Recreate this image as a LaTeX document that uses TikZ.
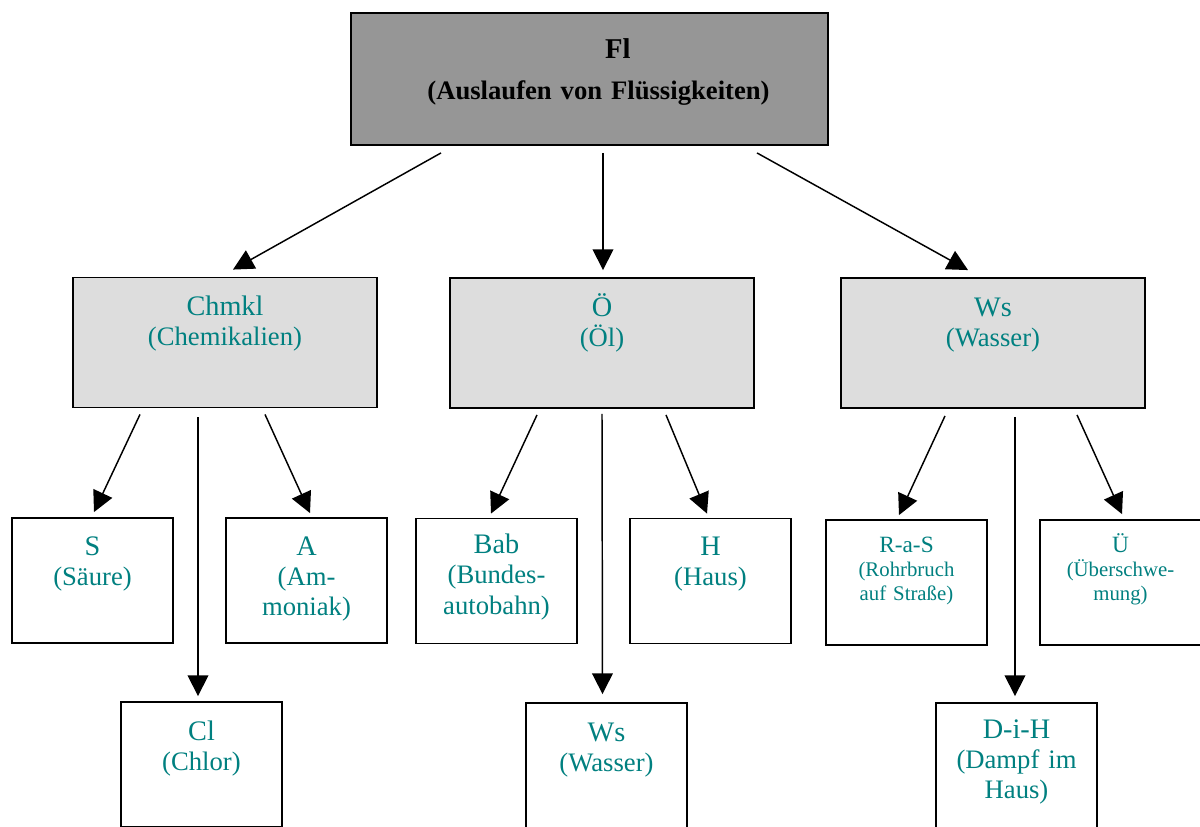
\documentclass[tikz,border=0pt]{standalone}
\usepackage{fontspec}
\setmainfont{Liberation Serif}
\usetikzlibrary{calc,arrows.meta,positioning}
\definecolor{c0}{RGB}{0,128,128}
\definecolor{c1}{RGB}{150,150,150}
\definecolor{c2}{RGB}{221,221,221}
\tikzset{%
  haupt/.style={draw,line width=1.4pt,fill=c1,minimum width=357.75pt,minimum height=99pt},
  gruppe/.style={draw,line width=1.4pt,fill=c2,minimum width=228pt,minimum height=97.5pt},
  blatt/.style={draw,line width=1.4pt,fill=white,minimum width=120.75pt,minimum height=93.75pt},
  txt/.style={text=c0,anchor=base,align=center,text width=#1,inner sep=0pt,
    font={\fontsize{20}{22.8}\selectfont}},
  txt/.default=115pt,
  klein/.style={txt,font={\fontsize{15.6}{18}\selectfont}},
  pfeil/.style={line width=1.1pt,-{Triangle[length=15.5pt,width=15.5pt]}}
}
\NewDocumentCommand\kopf{m}{{\fontsize{21.2}{22.8}\selectfont #1}}
\NewDocumentCommand\kopfklein{m}{{\fontsize{17.5}{18}\selectfont #1}}

\begin{document}
\begin{tikzpicture}[x=0.75pt,y=-0.75pt]
  \useasboundingbox (0,0) rectangle (1200,826);
  %% Top
  \node[haupt] (fl) at (589.5,79) {};
  \node[anchor=base,align=center,text width=330pt,inner sep=0pt,
    font={\bfseries\fontsize{20}{30.75}\selectfont}] (fl-t) at ($(fl.north)+(9,46)$)
    {\hspace*{29pt}{\fontsize{21.5}{30.75}\selectfont Fl}\\(Auslaufen von Flüssigkeiten)};
  %% Groups
  \node[gruppe] (chmkl) at (225,342.5) {};
  \node[txt=220pt] (chmkl-t) at ($(chmkl.north)+(0,39)$) {\kopf{Chmkl}\\(Chemikalien)};
  \node[gruppe] (oel) at (602,343) {};
  \node[txt=220pt] (oel-t) at ($(oel.north)+(0,39)$) {\kopf{Ö}\\(Öl)};
  \node[gruppe] (ws) at (993,343) {};
  \node[txt=220pt] (ws-t) at ($(ws.north)+(0,39)$) {\kopf{Ws}\\(Wasser)};
  %% Leaves
  \node[blatt] (s) at (92.5,580.5) {};
  \node[txt] (s-t) at ($(s.north)+(0,38)$) {\kopf{S}\\(Säure)};
  \node[blatt] (a) at (306.5,580.5) {};
  \node[txt] (a-t) at ($(a.north)+(0,38)$) {\kopf{A}\\(Am-\\moniak)};
  \node[blatt] (cl) at (201.5,764.5) {};
  \node[txt] (cl-t) at ($(cl.north)+(0,39)$) {\kopf{Cl}\\(Chlor)};
  %
  \node[blatt] (bab) at (496.5,581) {};
  \node[txt] (bab-t) at ($(bab.north)+(0,36)$) {\kopf{Bab}\\(Bundes-\\autobahn)};
  \node[blatt] (h) at (710.5,581) {};
  \node[txt] (h-t) at ($(h.north)+(0,38)$) {\kopf{H}\\(Haus)};
  \node[blatt] (ws2) at (606.5,765.5) {};
  \node[txt] (ws2-t) at ($(ws2.north)+(0,39)$) {\kopf{Ws}\\(Wasser)};
  %
  \node[blatt] (ras) at (906.5,582.5) {};
  \node[klein] (ras-t) at ($(ras.north)+(0,33)$) {\kopfklein{R-a-S}\\(Rohrbruch\\auf Straße)};
  \node[blatt] (ue) at (1120.5,582.5) {};
  \node[klein] (ue-t) at ($(ue.north)+(0,33)$) {\kopfklein{Ü}\\(Überschwe-\\mung)};
  \node[blatt] (dih) at (1016.5,765.5) {};
  \node[txt] (dih-t) at ($(dih.north)+(0,36)$) {\kopf{D-i-H}\\(Dampf im\\Haus)};
  %% Arrows
  \draw[pfeil] ($(fl.south)+(-148.5,7)$) -- ($(chmkl.north)+(8,-7)$);
  \draw[pfeil] ($(fl.south)+(13.5,7)$) -- ($(oel.north)+(1,-7)$);
  \draw[pfeil] ($(fl.south)+(167.5,7)$) -- ($(ws.north)+(-25,-7)$);
  %
  \draw[pfeil] ($(chmkl.south)+(-85,6)$) -- ($(s.north)+(1.5,-5)$);
  \draw[pfeil] ($(chmkl.south)+(-27,9)$) -- ($(cl.north)+(-3.5,-5)$);
  \draw[pfeil] ($(chmkl.south)+(40,6)$) -- ($(a.north)+(3.5,-4)$);
  %
  \draw[pfeil] ($(oel.south)+(-65,6)$) -- ($(bab.north)+(-5.5,-4)$);
  \draw[pfeil] ($(oel.south)+(0,5)$) -- ($(ws2.north)+(-4,-8)$);
  \draw[pfeil] ($(oel.south)+(64,6)$) -- ($(h.north)+(-3.5,-4)$);
  %
  \draw[pfeil] ($(ws.south)+(-48,7)$) -- ($(ras.north)+(-7.5,-4)$);
  \draw[pfeil] ($(ws.south)+(22,8)$) -- ($(dih.north)+(-1.5,-6)$);
  \draw[pfeil] ($(ws.south)+(84,6)$) -- ($(ue.north)+(1.5,-5)$);
  %%
\end{tikzpicture}
\end{document}
